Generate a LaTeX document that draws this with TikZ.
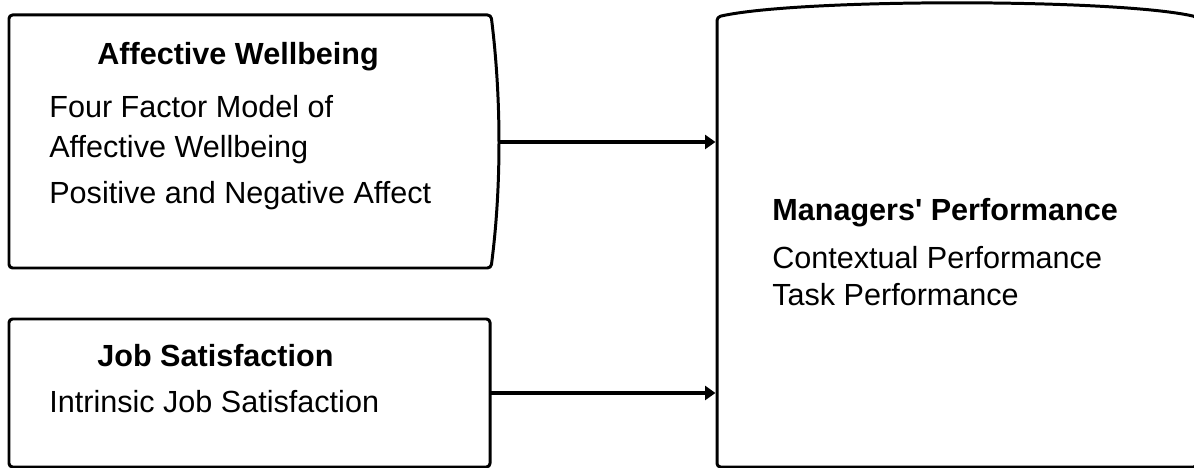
\documentclass[tikz,border=0pt]{standalone}
\usepackage{fontspec}
\setmainfont{Liberation Sans}[Ligatures=TeXOff]
\usetikzlibrary{arrows.meta}
\tikzset{
  frame/.style={line width=1.7pt, line join=round, rounded corners=2pt},
  conn/.style={line width=2.4pt, -{Triangle[length=0.21cm, width=0.28cm]}},
  head/.style={anchor=base west, inner sep=0pt, font=\bfseries\fontsize{17.4}{20}\selectfont},
  item/.style={anchor=base west, inner sep=0pt, font=\fontsize{17.4}{20}\selectfont}
}
\begin{document}
\begin{tikzpicture}
	% picture size
	\useasboundingbox (0,0) rectangle (23.88,9.36);
	\clip (0,0) rectangle (23.88,9.36);
	% upper left box: affective wellbeing
	\draw[frame] (0.18,4.0) -- (0.18,9.06) -- (9.82,9.06)
		.. controls (10.03,7.4) and (10.03,5.6) .. (9.82,4.0) -- cycle;
	\node[head] (aw-head) at (1.94,8.06) {Affective Wellbeing};
	\node[item] (aw-four) at (0.98,7.0) {Four Factor Model of};
	\node[item] (aw-aff) at (0.98,6.2) {Affective Wellbeing};
	\node[item] (aw-pna) at (0.98,5.28) {Positive and Negative Affect};
	% lower left box: job satisfaction
	\draw[frame] (0.18,0.02) -- (0.18,2.98) -- (9.80,2.98) -- (9.80,0.02) -- cycle;
	\node[head] (js-head) at (1.94,2.02) {Job Satisfaction};
	\node[item] (js-int) at (0.98,1.1) {Intrinsic Job Satisfaction};
	% right box: managers' performance
	\draw[frame] (14.34,0.02) -- (14.34,9.02)
		.. controls (15.94,9.393) and (22.34,9.393) .. (23.94,9.02)
		-- (23.94,0.02) -- cycle;
	\node[head] (mp-head) at (15.44,4.94) {Managers' Performance};
	\node[item] (mp-ctx) at (15.44,3.98) {Contextual Performance};
	\node[item] (mp-task) at (15.44,3.24) {Task Performance};
	% connector ends
	\coordinate (aw-out) at (9.98,6.52);
	\coordinate (js-out) at (9.80,1.5);
	\coordinate (mp-in) at (14.31,6.52);
	\coordinate (mp-in2) at (14.31,1.5);
	% the arrows
	\draw[conn] (aw-out) -- (mp-in);
	\draw[conn] (js-out) -- (mp-in2);
\end{tikzpicture}
\end{document}
